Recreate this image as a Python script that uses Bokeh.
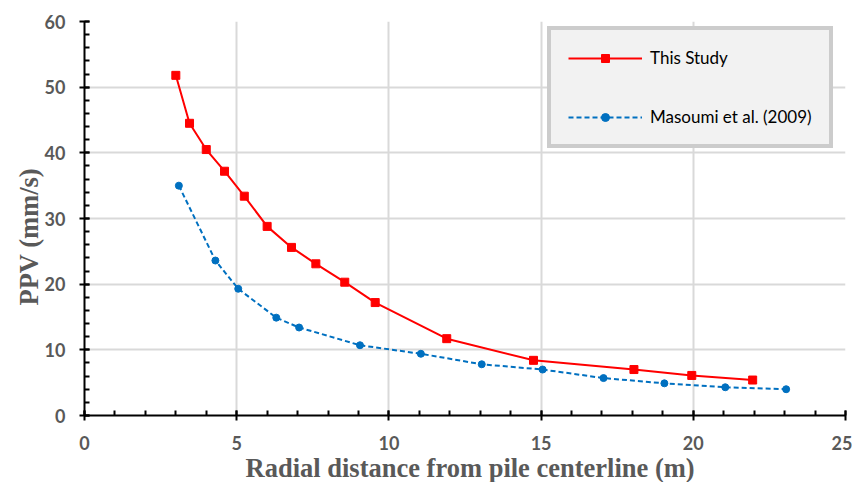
from bokeh.plotting import figure
from bokeh.models import Range1d, SingleIntervalTicker, Legend, LegendItem, Title
from bokeh.embed import file_html
from bokeh.resources import INLINE

# Data
study_x = [3.0, 3.45, 4.0, 4.6, 5.25, 6.0, 6.8, 7.6, 8.55, 9.55, 11.9, 14.75, 18.05, 19.95, 21.95]
study_y = [51.8, 44.5, 40.5, 37.2, 33.4, 28.8, 25.6, 23.1, 20.3, 17.2, 11.7, 8.4, 7.0, 6.1, 5.4]

masoumi_x = [3.1, 4.3, 5.05, 6.3, 7.05, 9.05, 11.05, 13.05, 15.05, 17.05, 19.05, 21.05, 23.05]
masoumi_y = [35.0, 23.6, 19.3, 14.9, 13.4, 10.7, 9.4, 7.8, 7.0, 5.7, 4.9, 4.3, 4.0]

series_labels = ["This Study", "Masoumi et al. (2009)"]
x_title = "Radial distance from pile centerline (m)"
y_title = "PPV (mm/s)"

p = figure(width=852, height=482, output_backend="svg", toolbar_location=None,
           x_range=Range1d(0, 25), y_range=Range1d(0, 60))
p.min_border_left = 84
p.min_border_right = 7
p.min_border_top = 21
p.min_border_bottom = 67
p.outline_line_color = None
p.background_fill_color = "white"
p.border_fill_color = "white"

p.xaxis.ticker = SingleIntervalTicker(interval=5, num_minor_ticks=5)
p.yaxis.ticker = SingleIntervalTicker(interval=10, num_minor_ticks=5)

for ax in (p.xaxis, p.yaxis):
    ax.axis_line_color = "black"
    ax.axis_line_width = 2
    ax.major_tick_line_color = "black"
    ax.major_tick_line_width = 2
    ax.minor_tick_line_color = "black"
    ax.minor_tick_line_width = 2
    ax.major_tick_in = 5
    ax.major_tick_out = 5
    ax.minor_tick_in = 5
    ax.minor_tick_out = 0
    ax.major_label_text_font = "Lato"
    ax.major_label_text_font_style = "bold"
    ax.major_label_text_font_size = "18px"
    ax.major_label_text_color = "#595959"

p.xaxis.major_label_standoff = 15
p.yaxis.major_label_standoff = 14

# Axis titles as side titles
title_style = dict(text_font="Liberation Serif", text_font_style="bold",
                   text_font_size="26.5px", text_color="#595959", align="left")
p.add_layout(Title(text=x_title, offset=161, standoff=-3, **title_style), "below")
p.add_layout(Title(text=y_title, offset=110, standoff=-5, **title_style), "left")

p.xgrid.grid_line_color = "#d9d9d9"
p.ygrid.grid_line_color = "#d9d9d9"
p.xgrid.grid_line_width = 2
p.ygrid.grid_line_width = 2

l1 = p.line(study_x, study_y, line_color="#ff0000", line_width=2)
m1 = p.scatter(study_x, study_y, marker="square", size=8, fill_color="#ff0000", line_color="#ff0000")
l2 = p.line(masoumi_x, masoumi_y, line_color="#0070c0", line_width=2, line_dash="5 3")
m2 = p.scatter(masoumi_x, masoumi_y, marker="circle", size=7, fill_color="#0070c0", line_color="#0070c0")

legend = Legend(items=[LegendItem(label=series_labels[0], renderers=[l1, m1]),
                       LegendItem(label=series_labels[1], renderers=[l2, m2])],
                location=(463, 267))
legend.border_line_color = "#a6a6a6"
legend.border_line_width = 4
legend.background_fill_color = "#f2f2f2"
legend.background_fill_alpha = 1
legend.label_text_font = "Lato"
legend.label_text_font_size = "17px"
legend.label_text_color = "black"
legend.glyph_width = 74
legend.glyph_height = 20
legend.label_height = 20
legend.label_standoff = 8
legend.spacing = 38
legend.padding = 17
legend.margin = 0
p.add_layout(legend, "center")

open("out.html", "w").write(file_html(p, INLINE))
